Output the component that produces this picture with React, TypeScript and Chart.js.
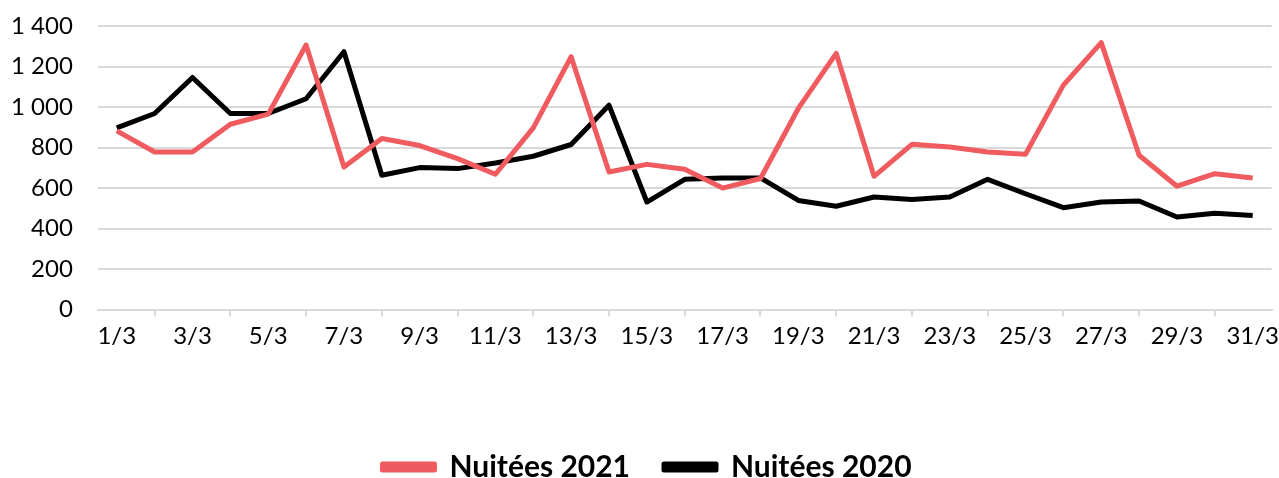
import React, { useEffect, useRef } from "react";
import { Chart, registerables } from "chart.js";

Chart.register(...registerables);

const days: string[] = Array.from({ length: 31 }, (_, i) => `${i + 1}/3`);

const nuitees2021: number[] = [
  882, 778, 778, 915, 965, 1306, 704, 845, 810, 745,
  668, 897, 1248, 679, 717, 693, 600, 647, 993, 1265,
  658, 816, 803, 778, 767, 1108, 1318, 762, 609, 671, 650,
];

const nuitees2020: number[] = [
  897, 968, 1146, 968, 968, 1041, 1273, 663, 701, 696,
  724, 757, 815, 1009, 531, 643, 650, 650, 539, 510,
  556, 544, 556, 643, 572, 503, 531, 536, 457, 476, 465,
];

const yTicks: number[] = [0, 200, 400, 600, 800, 1000, 1200, 1400];

const FONT = "Lato, 'DejaVu Sans', sans-serif";

export default function App() {
  const ref = useRef<HTMLCanvasElement | null>(null);

  useEffect(() => {
    if (!ref.current) return;
    const legendPlacer = {
      id: "legendPlacer",
      beforeInit(chart: any) {
        const lg = chart.legend;
        const origFit = lg.fit;
        const origDraw = lg.draw;
        lg.fit = function () {
          origFit.call(this);
          this.height = 123;
        };
        lg.draw = function () {
          const t = this.top;
          const l = this.left;
          const r = this.right;
          const pad = this.options.labels.padding;
          this.top = 452 - pad;
          this.left = l + 2;
          this.right = r + 2;
          origDraw.call(this);
          this.top = t;
          this.left = l;
          this.right = r;
        };
      },
    };
    const chart = new Chart(ref.current, {
      type: "line",
      data: {
        labels: days,
        datasets: [
          {
            label: "Nuitées 2021",
            data: nuitees2021,
            borderColor: "#EF5B5F",
            backgroundColor: "#EF5B5F",
            borderWidth: 5,
            pointRadius: 0,
            tension: 0,
            borderJoinStyle: "round",
          },
          {
            label: "Nuitées 2020",
            data: nuitees2020,
            borderColor: "#000000",
            backgroundColor: "#000000",
            borderWidth: 5,
            pointRadius: 0,
            tension: 0,
            borderJoinStyle: "round",
          },
        ],
      },
      options: {
        animation: false,
        responsive: false,
        maintainAspectRatio: false,
        layout: { padding: { left: 11, right: 0, top: 26, bottom: 0 } },
        plugins: {
          tooltip: { enabled: false },
          legend: {
            position: "bottom",
            labels: {
              boxWidth: 52,
              boxHeight: 6,
              padding: 34,
              color: "#000",
              font: { family: FONT, size: 30, weight: "bold" },
            },
          },
        },
        scales: {
          x: {
            offset: true,
            grid: {
              offset: true,
              drawOnChartArea: false,
              color: "#d9d9d9",
              lineWidth: 2,
              tickLength: 7,
            },
            border: { color: "#d9d9d9", width: 2 },
            ticks: {
              autoSkip: false,
              maxRotation: 0,
              padding: 0,
              color: "#000",
              font: { family: FONT, size: 24, lineHeight: 1.6 },
              callback: (_v: any, i: number) => (i % 2 === 0 ? days[i] : null),
            },
          },
          y: {
            min: 0,
            max: 1400,
            afterBuildTicks: (axis: any) => {
              axis.ticks = yTicks.map((v) => ({ value: v }));
            },
            grid: {
              color: "#d9d9d9",
              lineWidth: 2,
              drawTicks: true,
              tickLength: 25,
              tickColor: "rgba(0,0,0,0)",
            },
            border: { display: false },
            ticks: {
              padding: 0,
              color: "#000",
              font: { family: FONT, size: 24 },
              callback: (v: any) =>
                Number(v).toString().replace(/\B(?=(\d{3})+(?!\d))/g, " "),
            },
          },
        },
      },
      plugins: [legendPlacer],
    });
    return () => chart.destroy();
  }, []);

  return (
    <div style={{ position: "fixed", left: 0, top: 0, width: 1279, height: 478, background: "#fff" }}>
      <canvas ref={ref} width={1279} height={478} style={{ width: 1279, height: 478 }} />
    </div>
  );
}
